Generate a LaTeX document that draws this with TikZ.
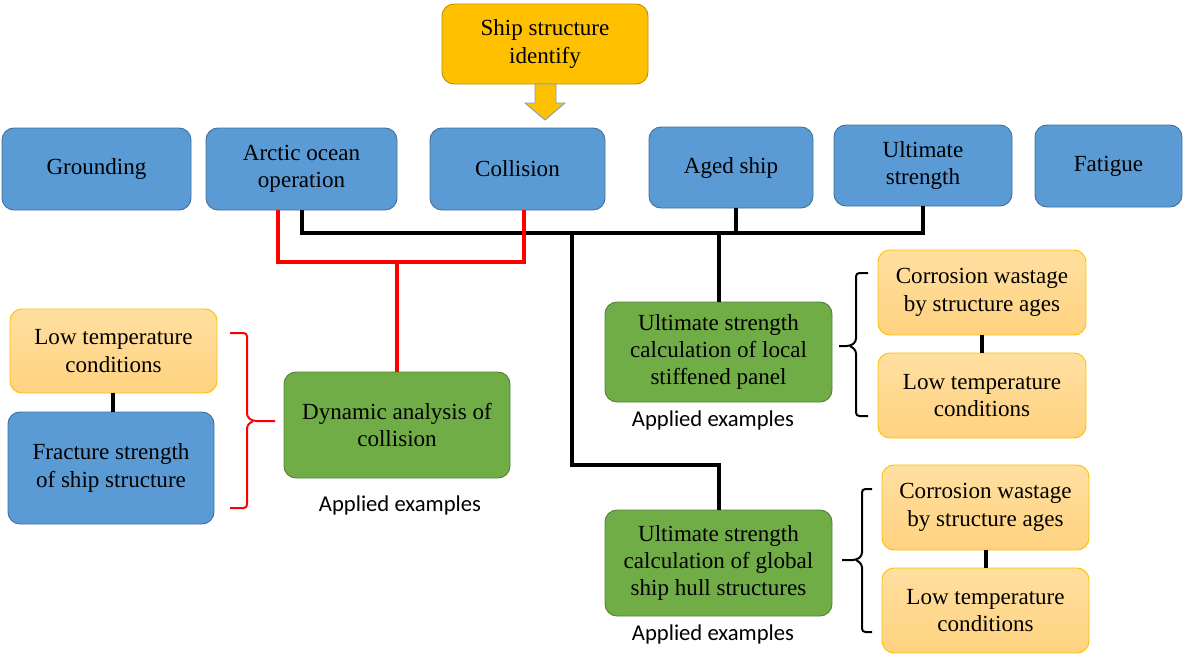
\documentclass[tikz,border=0pt]{standalone}
\usepackage{fontspec}
\setmainfont{Liberation Serif}
\newfontfamily\calfont{Carlito}
\definecolor{bluef}{HTML}{5B9BD5}
\definecolor{blued}{HTML}{41719C}
\definecolor{greenf}{HTML}{70AD47}
\definecolor{greend}{HTML}{548235}
\definecolor{goldf}{HTML}{FFC000}
\definecolor{goldd}{HTML}{C09000}
\definecolor{lorA}{HTML}{FFDFA0}
\definecolor{lorB}{HTML}{FFD27F}
\definecolor{lorD}{HTML}{FFC000}
\definecolor{redl}{HTML}{FF0000}
\definecolor{arrd}{HTML}{7F9FBF}
\begin{document}
\begin{tikzpicture}[x=0.75pt,y=-0.75pt,
  sz/.style 2 args={minimum width=#1*0.75pt, minimum height=#2*0.75pt},
  box/.style={rounded corners=9pt, inner sep=0pt, align=center,
    font=\fontsize{17.3}{20.5}\selectfont, line width=0.7pt},
  bluebox/.style={box, fill=bluef, draw=blued},
  greenbox/.style={box, fill=greenf, draw=greend},
  goldbox/.style={box, fill=goldf, draw=goldd},
  lightbox/.style={box, top color=lorA, bottom color=lorB, draw=lorD},
  lbl/.style={font=\calfont\fontsize{17}{20}\selectfont, inner sep=0pt},
  blk/.style={draw=black, line width=3pt},
  redw/.style={draw=redl, line width=3pt},
  bracek/.style={draw=black, line width=1.5pt, rounded corners=2.5pt},
  bracer/.style={draw=redl, line width=1.5pt, rounded corners=2.5pt},
  blockarrow/.style={fill=goldf, draw=arrd, line width=0.7pt}
]
\useasboundingbox (0,0) rectangle (1183,657);

% top
\node[goldbox, sz={206}{80}] (ship) at (545,44) {Ship structure\\identify};
\path[blockarrow] (535,84) -- (556,84) -- (556,103) -- (565,103) -- (545,120) -- (525,103) -- (535,103) -- cycle;

% row of categories
\node[bluebox, sz={189}{82}] (ground) at (96.5,169) {Grounding};
\node[bluebox, sz={191}{82}] (arctic) at (301.5,169) {Arctic ocean\\operation};
\node[bluebox, sz={175}{82}] (coll) at (517.5,169) {Collision};
\node[bluebox, sz={164}{81}] (aged) at (731,167.5) {Aged ship};
\node[bluebox, sz={178}{81}] (ult) at (923,165.5) {Ultimate\\strength};
\node[bluebox, sz={147}{82}] (fat) at (1108.5,166) {Fatigue};

% applied examples
\node[greenbox, sz={226}{106}] (dyn) at (397,425) {Dynamic analysis of\\collision};
\node[lbl] (lab1) at (400,505) {Applied examples};
\node[greenbox, sz={227}{100}] (loc) at (718.5,352) {Ultimate strength\\calculation of local\\stiffened panel};
\node[lbl] (lab2) at (713,420) {Applied examples};
\node[greenbox, sz={227}{106}] (glob) at (718.5,563) {Ultimate strength\\calculation of global\\ship hull structures};
\node[lbl] (lab3) at (713,634) {Applied examples};

% left group
\node[lightbox, sz={207}{84}] (lowL) at (113.5,351) {Low temperature\\conditions};
\node[bluebox, sz={206}{112}] (frac) at (111,468) {Fracture strength\\of ship structure};
\coordinate (lx) at (113,0);
\draw[blk] (lowL.south -| lx) -- (frac.north -| lx);

% right groups
\node[lightbox, sz={208}{85}] (corA) at (982,292.5) {Corrosion wastage\\by structure ages};
\node[lightbox, sz={208}{85}] (lowA) at (982,395.5) {Low temperature\\conditions};
\draw[blk] (corA.south) -- (lowA.north);
\node[lightbox, sz={207}{85}] (corB) at (985.5,507.5) {Corrosion wastage\\by structure ages};
\node[lightbox, sz={207}{85}] (lowB) at (985.5,610.5) {Low temperature\\conditions};
\draw[blk] (corB.south) -- (lowB.north);

% black tree
\coordinate (bus) at (0,233);
\coordinate (trunk) at (572,233);
\coordinate (knee) at (572,465);
\coordinate (agx) at (736,0);
\draw[blk] (arctic.south) |- (bus -| ult.south) -- (ult.south);
\draw[blk] (aged.south -| agx) -- (bus -| agx);
\draw[blk] (loc.north) -- (loc.north |- bus);
\draw[blk] (trunk) -- (knee) -| (glob.north);

% red tree
\coordinate (rL) at (278,262);
\coordinate (rR) at (524,262);
\coordinate (rM) at (397,262);
\draw[redw] (arctic.south -| rL) -- (rL) -- (rR) -- (coll.south -| rR);
\draw[redw] (rM) -- (dyn.north -| rM);

% braces
\draw[bracer] (230,333) -- (247,333) -- (247,417) -- (253,421) -- (275,421);
\draw[bracer] (253,421) -- (247,425) -- (247,508) -- (230,508);

\draw[bracek] (868,273) -- (856,273) -- (856,342) -- (850,346) -- (839,346);
\draw[bracek] (850,346) -- (856,350) -- (856,416) -- (868,416);

\draw[bracek] (872,489) -- (862,489) -- (862,556) -- (856,560) -- (842,560);
\draw[bracek] (856,560) -- (862,564) -- (862,632) -- (872,632);
\end{tikzpicture}
\end{document}
